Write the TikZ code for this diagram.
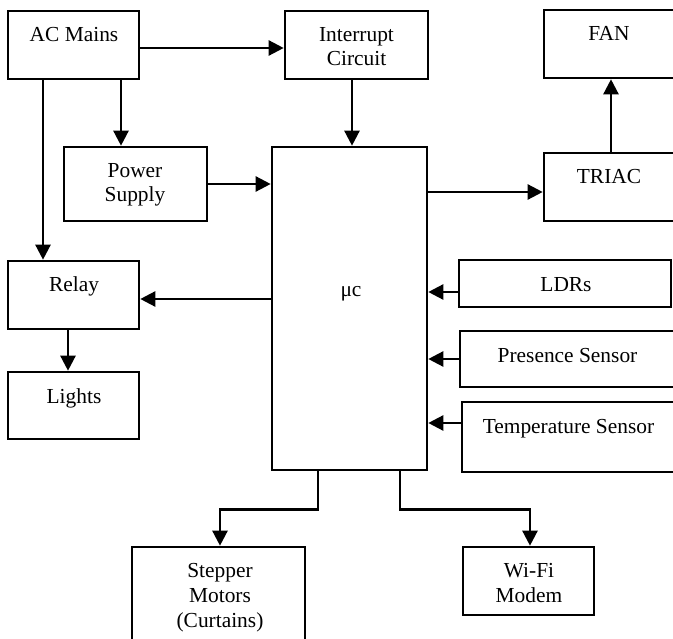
\documentclass[tikz,border=0pt]{standalone}
\usepackage{fontspec}
\setmainfont{Liberation Serif}
\usetikzlibrary{arrows.meta}
\begin{document}
\begin{tikzpicture}[x=1pt,y=-1pt,
  blk/.style={draw, line width=2.6pt, inner sep=0pt},
  lbl/.style={inner sep=0pt, anchor=base, align=center, font=\fontsize{21.4}{24.6}\selectfont},
  conn/.style={line width=2.4pt, -{Triangle[length=15pt,width=15pt]}}]
\useasboundingbox (0,0) rectangle (673,639);
\clip (0,0) rectangle (673,639);
% boxes
\node[blk, minimum width=131pt, minimum height=68pt] (ac)     at (73.5,45)   {};
\node[blk, minimum width=143pt, minimum height=68pt] (intr)   at (356.5,45)  {};
\node[blk, minimum width=166pt, minimum height=68pt] (fan)    at (627,44)    {};
\node[blk, minimum width=143pt, minimum height=74pt] (ps)     at (135.5,184) {};
\node[blk, minimum width=155pt, minimum height=323pt] (uc)    at (349.5,308.5) {};
\node[blk, minimum width=166pt, minimum height=68pt] (triac)  at (627,187)   {};
\node[blk, minimum width=131pt, minimum height=68pt] (relay)  at (73.5,295)  {};
\node[blk, minimum width=131pt, minimum height=67pt] (lights) at (73.5,405.5) {};
\node[blk, minimum width=212pt, minimum height=47pt] (ldr)    at (565,283.5) {};
\node[blk, minimum width=250pt, minimum height=56pt] (pres)   at (585,359)   {};
\node[blk, minimum width=248pt, minimum height=70pt] (temp)   at (586,437)   {};
\node[blk, minimum width=173pt, minimum height=173pt] (step)  at (218.5,633.5) {};
\node[blk, minimum width=131pt, minimum height=68pt] (wifi)   at (528.5,581) {};
% texts (anchor base = baseline of the last line)
\node[lbl] (tac)    at (74,42)     {AC Mains};
\node[lbl] (tintr)  at (356.5,66)  {Interrupt\\Circuit};
\node[lbl] (tfan)   at (609,41)    {FAN};
\node[lbl] (tps)    at (135,202)   {Power\\Supply};
\node[lbl] (ttriac) at (609,184)   {TRIAC};
\node[lbl] (tuc)    at (351,297)   {μc};
\node[lbl] (trelay) at (74,292)    {Relay};
\node[lbl] (tlig)   at (74,404)    {Lights};
\node[lbl] (tldr)   at (566,292)   {LDRs};
\node[lbl] (tpres)  at (567.5,363) {Presence Sensor};
\node[lbl] (ttemp)  at (568.5,434) {Temperature Sensor};
\node[lbl] (tstep)  at (220,627)   {Stepper\\Motors\\(Curtains)};
\node[lbl] (twifi)  at (529,602)   {Wi-Fi\\Modem};
% connectors
\draw[conn] (ac.east |- 0,48) -- (intr.west |- 0,48);
\draw[conn] (ac.south -| 121,0) -- (ps.north -| 121,0);
\draw[conn] (ac.south -| 43,0) -- (relay.north -| 43,0);
\draw[conn] (intr.south -| 352,0) -- (uc.north -| 352,0);
\draw[conn] (ps.east |- 0,184) -- (uc.west |- 0,184);
\draw[conn] (uc.east |- 0,192) -- (triac.west |- 0,192);
\draw[conn] (triac.north -| 611,0) -- (fan.south -| 611,0);
\draw[conn] (uc.west |- 0,299) -- (relay.east |- 0,299);
\draw[conn] (relay.south -| 68,0) -- (lights.north -| 68,0);
\draw[conn] (ldr.west |- 0,292) -- (uc.east |- 0,292);
\draw[conn] (pres.west |- 0,359) -- (uc.east |- 0,359);
\draw[conn] (temp.west |- 0,423) -- (uc.east |- 0,423);
\draw[conn] (uc.south -| 318,0) -- ++(0,38) -| (step.north -| 220,0);
\draw[conn] (uc.south -| 400,0) -- ++(0,38) -| (wifi.north -| 530,0);
\end{tikzpicture}
\end{document}
